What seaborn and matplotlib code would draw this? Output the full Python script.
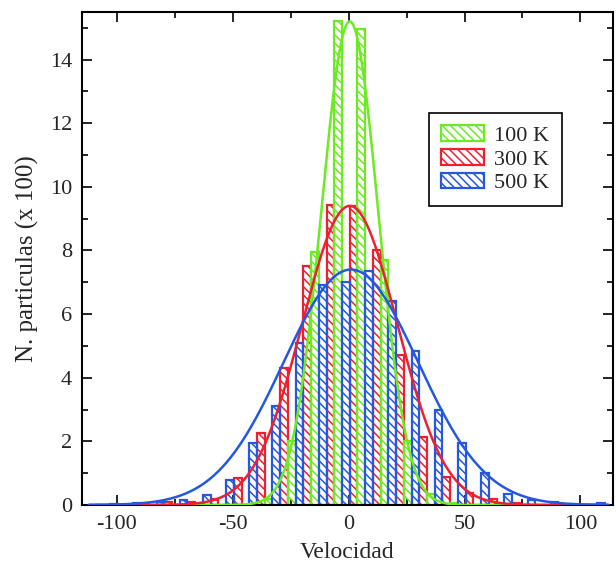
import numpy as np
import pandas as pd
import matplotlib as mpl
mpl.use("Agg")
import matplotlib.pyplot as plt
import seaborn as sns
from matplotlib.patches import Patch
from matplotlib.ticker import MultipleLocator

# histogram bins (centre of each 10-unit bin)
bin_centers = [-104.5, -94.5, -84.5, -74.5, -64.5, -54.5, -44.5, -34.5, -24.5, -14.5, -4.5,
               5.5, 15.5, 25.5, 35.5, 45.5, 55.5, 65.5, 75.5, 85.5, 95.5, 105.5]
temps = ["100 K", "300 K", "500 K"]
counts_100k = [0, 0, 0, 0, 0, 0, 0, 0.2, 2.0, 7.95, 15.2,
               14.95, 7.7, 2.0, 0.35, 0.05, 0, 0, 0, 0, 0, 0]
counts_300k = [0, 0, 0.04, 0.08, 0.1, 0.2, 0.85, 2.25, 4.3, 7.5, 9.43,
               9.4, 8.0, 4.7, 2.15, 0.88, 0.38, 0.2, 0.05, 0, 0, 0]
counts_500k = [0.03, 0.05, 0.1, 0.15, 0.3, 0.8, 1.95, 3.1, 5.1, 6.9, 7.0,
               7.35, 6.4, 4.85, 3.0, 1.95, 1.0, 0.35, 0.15, 0.1, 0, 0.05]

# gaussian fits: peak, centre, width
fit_peak = [15.2, 9.4, 7.4]
fit_centre = [0.5, 0.5, 1.0]
fit_sigma = [12.3, 20.5, 29.0]

colors = {"100 K": "#6CEB22", "300 K": "#EE2030", "500 K": "#2458E0"}
hatch = "\\" * 4

sns.set_style("ticks")
plt.rcParams["font.family"] = ["Liberation Serif", "DejaVu Serif"]
plt.rcParams["axes.unicode_minus"] = False
plt.rcParams["hatch.linewidth"] = 1.1

df = pd.DataFrame({
    "v": bin_centers * 3,
    "n": counts_100k + counts_300k + counts_500k,
    "T": np.repeat(temps, len(bin_centers)),
})

fig = plt.figure(figsize=(6.16, 5.63), dpi=100)
ax = fig.add_axes([0.133, 0.103, 0.862, 0.876])

sns.barplot(df, x="v", y="n", hue="T", hue_order=["300 K", "100 K", "500 K"],
            native_scale=True, width=1.0, dodge=True, fill=False,
            palette=colors, linewidth=1.6, errorbar=None, legend=False, ax=ax)
for p in ax.patches:
    p.set_edgecolor(p.get_edgecolor())
    p.set_facecolor("none")
    p.set_hatch(hatch)

xs = np.linspace(-112, 112, 500)
for t, a, m, s in zip(temps, fit_peak, fit_centre, fit_sigma):
    ys = a * np.exp(-((xs - m) ** 2) / (2 * s ** 2))
    sns.lineplot(x=xs, y=ys, color=colors[t], linewidth=1.8, ax=ax, zorder=5)

ax.set_xlim(-115, 114)
ax.set_ylim(0, 15.5)
ax.xaxis.set_major_locator(MultipleLocator(50))
ax.xaxis.set_minor_locator(MultipleLocator(25))
ax.yaxis.set_major_locator(MultipleLocator(2))
ax.yaxis.set_minor_locator(MultipleLocator(1))
ax.tick_params(which="both", direction="in", top=True, right=True, width=1.2, color="black")
ax.tick_params(which="major", length=7, labelsize=16, pad=7)
ax.tick_params(which="minor", length=4)
for sp in ax.spines.values():
    sp.set_linewidth(1.5)
    sp.set_color("black")

ax.set_xlabel("Velocidad", fontsize=17, labelpad=6)
ax.set_ylabel("N. particulas (x 100)", fontsize=18, labelpad=8)

handles = [Patch(facecolor="none", edgecolor=colors[t], hatch=hatch, linewidth=1.6, label=t)
           for t in temps]
leg = ax.legend(handles=handles, loc="upper left", bbox_to_anchor=(0.653, 0.795),
                fontsize=16, frameon=True, fancybox=False, edgecolor="black", framealpha=1,
                handlelength=1.95, handleheight=0.7, handletextpad=0.45,
                labelspacing=0.15, borderpad=0.55, borderaxespad=0)
leg.get_frame().set_linewidth(1.2)

fig.savefig("out.png", dpi=100)
